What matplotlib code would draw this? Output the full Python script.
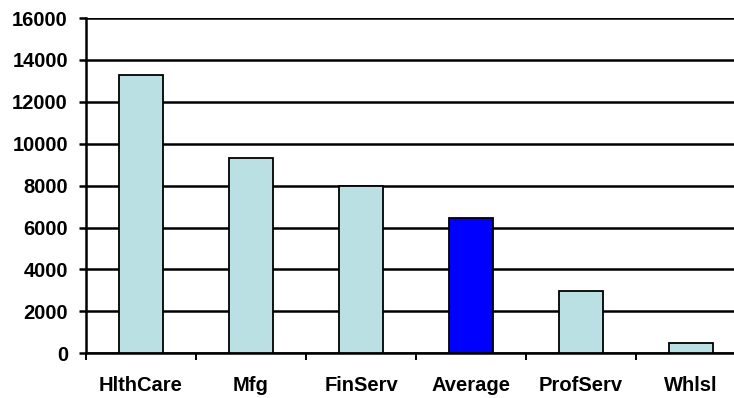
import matplotlib
matplotlib.use("Agg")
import matplotlib.pyplot as plt
import numpy as np

categories = ["HlthCare", "Mfg", "FinServ", "Average", "ProfServ", "Whlsl"]
values = [13300, 9330, 8000, 6470, 2960, 490]
highlight = "Average"

y_ticks = [0, 2000, 4000, 6000, 8000, 10000, 12000, 14000, 16000]

plt.rcParams["font.family"] = ["Liberation Sans", "DejaVu Sans"]
plt.rcParams["font.weight"] = "bold"

W, H = 734, 398
fig = plt.figure(figsize=(W / 100, H / 100), dpi=100)
left, right, bottom, top = 86, 746, 353.3, 18
ax = fig.add_axes([left / W, (H - bottom) / H, (right - left) / W, (bottom - top) / H])

x = np.arange(len(categories))
colors = ["#0000FF" if c == highlight else "#BBE0E3" for c in categories]
ax.bar(x, values, width=0.4, color=colors, edgecolor="black", linewidth=1.3, zorder=3)

ax.set_xlim(-0.5, len(categories) - 0.5)
ax.set_ylim(0, 16000)
ax.set_yticks(y_ticks)
ax.set_yticklabels([str(v) for v in y_ticks], fontsize=14.5, fontweight="bold")
ax.yaxis.grid(True, color="black", linewidth=1.8, zorder=0)
ax.set_axisbelow(True)

ax.set_xticks(x)
ax.set_xticklabels(categories, fontsize=14.5, fontweight="bold")
ax.set_xticks(np.arange(len(categories) + 1) - 0.5, minor=True)
ax.tick_params(axis="x", which="major", length=0, pad=16)
ax.tick_params(axis="x", which="minor", length=5, width=1.4, direction="out", color="black")
ax.tick_params(axis="y", which="major", length=5, width=1.8, direction="out", pad=8)

for side in ("top", "right"):
    ax.spines[side].set_visible(False)
for side in ("left", "bottom"):
    ax.spines[side].set_linewidth(1.8)
    ax.spines[side].set_color("black")

fig.savefig("out.png", dpi=100)
